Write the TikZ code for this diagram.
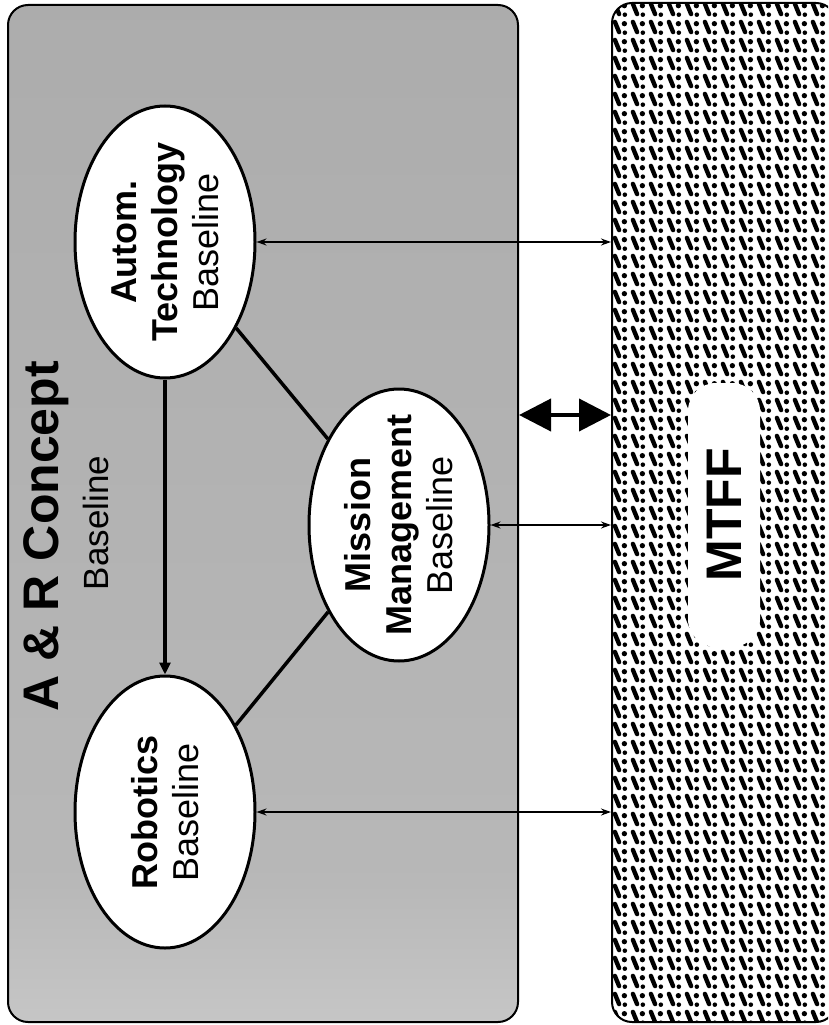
\documentclass[tikz,border=0pt]{standalone}
\usepackage{fontspec}
\setmainfont{Liberation Sans}
\usetikzlibrary{shapes.geometric, arrows.meta, patterns.meta}

% grey fade of the concept panel, dark at the top
\pgfdeclareverticalshading{conceptfade}{100bp}{%
  color(0bp)=(black!3); color(12bp)=(black!12);
  color(32bp)=(black!28); color(100bp)=(black!35)}

% slanted grain of the MTFF panel
\tikzdeclarepattern{
  name=mtffgrain,
  type=uncolored,
  bounding box={(0pt,0pt) and (18pt,18pt)},
  tile size={(18pt,18pt)},
  code={
    \draw[line width=4.6pt, line cap=round] (3pt,15pt) -- (7.5pt,4pt);
    \fill (13pt,13pt) circle [radius=2.8pt];
    \fill (13.5pt,3.5pt) circle [radius=2.4pt];
  }
}

\tikzset{
  arpanel/.style={draw, line width=2pt, rounded corners=20pt, inner sep=0pt},
  arbaseline/.style={ellipse, draw, line width=3pt, fill=white, rotate=90,
                     minimum width=272pt, minimum height=180pt,
                     inner xsep=-24pt, inner ysep=-4pt, align=center,
                     font=\fontsize{36}{41}\selectfont},
  arlink/.style={line width=3.5pt},
  arsignal/.style={line width=1.5pt,
                   {Stealth[length=10pt,width=7pt]}-{Stealth[length=10pt,width=7pt]}},
  arbus/.style={line width=4pt,
                {Triangle[length=32pt,width=32pt]}-{Triangle[length=32pt,width=32pt]}},
  artext/.style={rotate=90, inner sep=0pt, font=\fontsize{35}{40}\selectfont}
}

\begin{document}
\begin{tikzpicture}[x=1pt, y=-1pt]
  \useasboundingbox (0,0) rectangle (828,1025);
  \clip (0,0) rectangle (828,1025);
  % the two panels
  \node[arpanel, shading=conceptfade, minimum width=510pt,
        minimum height=1017pt] (concept) at (263,513.5) {};
  \node[arpanel, pattern=mtffgrain, minimum width=224pt,
        minimum height=1019pt] (mtff) at (724,512.5) {};
  \node[artext, fill=white, rounded corners=28pt, minimum width=264pt,
        minimum height=72pt, font=\fontsize{50}{56}\selectfont\bfseries]
    (mtfflabel) at (724,515) {MTFF};
  % name/x/y/text
  \foreach \n/\x/\y/\t in {%
      autom/165/242/{\textbf{Autom.}\\\textbf{Technology}\\Baseline},
      mission/399/525/{\textbf{Mission}\\\textbf{Management}\\Baseline},
      robotics/165/812/{\textbf{Robotics}\\Baseline}}
    { \node[arbaseline] (\n) at (\x,\y) {\t}; }
  % links between the baselines
  \draw[arlink, -{Triangle[length=12pt,width=11pt]}] (autom) -- (robotics);
  \draw[arlink] (autom) -- (mission);
  \draw[arlink] (mission) -- (robotics);
  % each baseline talks to the MTFF
  \foreach \n in {autom, mission, robotics}
    { \draw[arsignal] (\n) -- (\n -| mtff.west); }
  % the main link between the two panels
  \coordinate (bus) at (0,415);
  \draw[arbus] (concept.east |- bus) -- (mtff.west |- bus);
  % panel title
  \node[artext, font=\fontsize{50}{56}\selectfont\bfseries]
    (title) at (46,536) {A \& R Concept};
  \node[artext] (titlesub) at (96,523) {Baseline};
\end{tikzpicture}
\end{document}
